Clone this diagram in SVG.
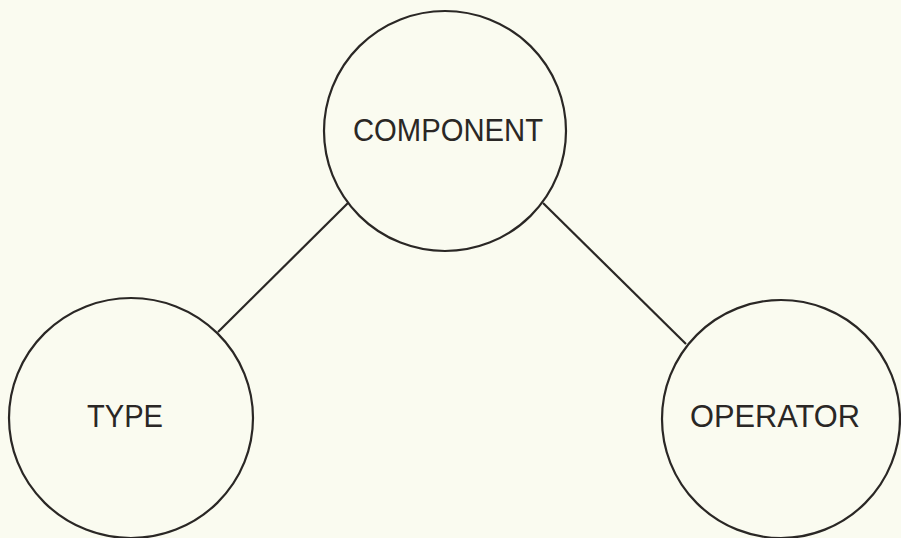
<svg xmlns="http://www.w3.org/2000/svg" width="901" height="538" viewBox="0 0 901 538">
<style>
.node{fill:none;stroke:#2a2725;stroke-width:2.2}
.edge{stroke:#2a2725;stroke-width:2.2;fill:none}
.lbl{font-family:"Liberation Sans",Arial,sans-serif;font-size:31px;fill:#2a2725}
</style>
<rect width="901" height="538" fill="#fafbf0"/>
<g id="connectors">
<line class="edge" x1="218" y1="332" x2="348" y2="203"/>
<line class="edge" x1="543" y1="203" x2="686" y2="344"/>
</g>
<g id="component">
<ellipse class="node" cx="445" cy="131" rx="121" ry="120"/>
<text class="lbl" x="353" y="140.5" textLength="190" lengthAdjust="spacingAndGlyphs">COMPONENT</text>
</g>
<g id="type">
<ellipse class="node" cx="131" cy="418" rx="122" ry="120"/>
<text class="lbl" x="87" y="427" textLength="76" lengthAdjust="spacingAndGlyphs">TYPE</text>
</g>
<g id="operator">
<ellipse class="node" cx="781" cy="419" rx="119" ry="119"/>
<text class="lbl" x="690" y="427" textLength="170" lengthAdjust="spacingAndGlyphs">OPERATOR</text>
</g>
</svg>
